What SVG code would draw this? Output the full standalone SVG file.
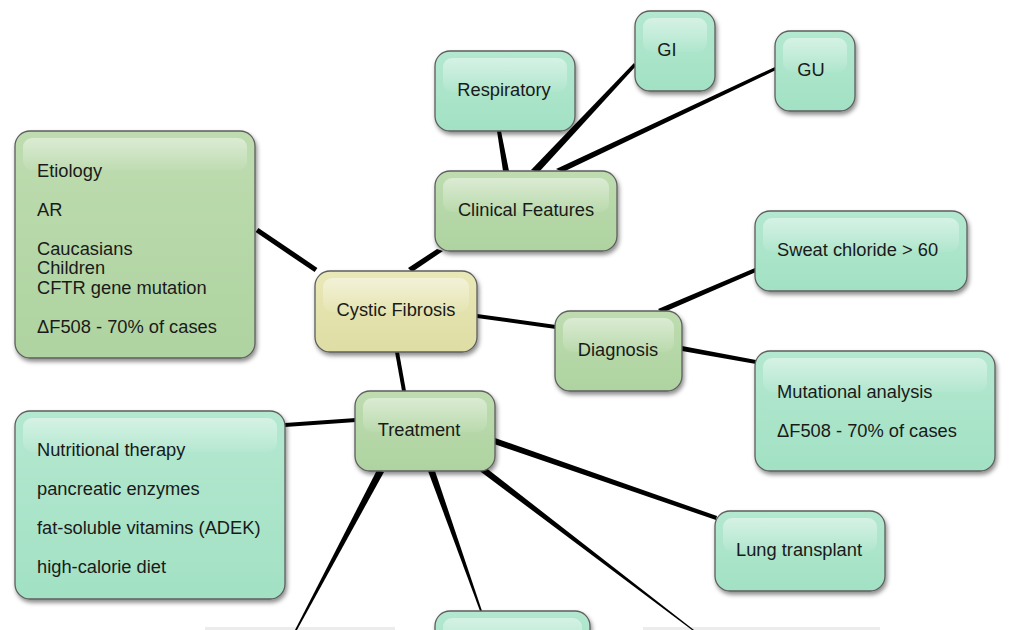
<svg xmlns="http://www.w3.org/2000/svg" width="1020" height="630" viewBox="0 0 1020 630">
<defs>
<filter id="sh" x="-10%" y="-10%" width="125%" height="130%">
<feDropShadow dx="1.5" dy="3" stdDeviation="2" flood-color="#000" flood-opacity="0.45"/>
</filter>
<linearGradient id="gT" x1="0" y1="0" x2="0" y2="1">
<stop offset="0" stop-color="#b4e8d0"/><stop offset="1" stop-color="#a2e1c4"/>
</linearGradient>
<linearGradient id="gG" x1="0" y1="0" x2="0" y2="1">
<stop offset="0" stop-color="#bedcb0"/><stop offset="1" stop-color="#aed3a0"/>
</linearGradient>
<linearGradient id="gY" x1="0" y1="0" x2="0" y2="1">
<stop offset="0" stop-color="#e9e8b8"/><stop offset="1" stop-color="#dedda4"/>
</linearGradient>
<linearGradient id="gl" x1="0" y1="0" x2="0" y2="1">
<stop offset="0" stop-color="#fff" stop-opacity="0.45"/><stop offset="1" stop-color="#fff" stop-opacity="0.06"/>
</linearGradient>
</defs>
<style>
.n{stroke:#5e5e5e;stroke-width:1.3;filter:url(#sh)}
.t{fill:url(#gT)}.g{fill:url(#gG)}.y{fill:url(#gY)}
.gl{fill:url(#gl)}
text{font-family:"Liberation Sans",Arial,sans-serif;font-size:18.3px;fill:#1a1a1a}
.c{text-anchor:middle}
.cn{fill:#000}
</style>
<rect width="1020" height="630" fill="#fff"/>
<rect x="205" y="627" width="190" height="3" fill="#ececec"/>
<rect x="643" y="627" width="237" height="3" fill="#ececec"/>
<g id="connectors">
<polygon class="cn" points="255.6,232.1 258.4,227.9 317.4,267.9 314.6,272.1"/>
<polygon class="cn" points="408,268 412,272 443,251 437,249"/>
<polygon class="cn" points="497,131 501,131 509,171 503,171"/>
<polygon class="cn" points="634,63 636,66 539,172 531,170"/>
<polygon class="cn" points="775,67 776,70 563,172 556,169"/>
<polygon class="cn" points="477,314 477,318 556,329 556,325"/>
<polygon class="cn" points="658,309 662,313 756,272 755,268"/>
<polygon class="cn" points="682,346 682,351 756,364 756,360"/>
<polygon class="cn" points="395,352 399,352 406,391 402,391"/>
<polygon class="cn" points="285,423 285,427 356,422 356,418"/>
<polygon class="cn" points="495,438 494,444 716,520 717,516"/>
<polygon class="cn" points="377,470 384,472 297,630 295,630"/>
<polygon class="cn" points="428,471 435,471 482,611 480,611"/>
<polygon class="cn" points="479,470.5 483,465.5 694,630 692,630"/>
</g>
<g id="etiology">
<rect class="n g" x="15" y="131" width="240" height="227" rx="15"/>
<rect class="gl" x="23" y="138" width="224" height="32" rx="9"/>
<text x="37" y="177">Etiology</text>
<text x="37" y="216">AR</text>
<text x="37" y="255">Caucasians</text>
<text x="37" y="274">Children</text>
<text x="37" y="294">CFTR gene mutation</text>
<text x="37" y="333">ΔF508 - 70% of cases</text>
</g>
<g id="cystic-fibrosis">
<rect class="n y" x="315" y="271" width="162" height="81" rx="15"/>
<rect class="gl" x="323" y="278" width="146" height="34" rx="9"/>
<text class="c" x="396" y="316">Cystic Fibrosis</text>
</g>
<g id="clinical-features">
<rect class="n g" x="435" y="171" width="182" height="80" rx="15"/>
<rect class="gl" x="443" y="178" width="166" height="34" rx="9"/>
<text class="c" x="526" y="216">Clinical Features</text>
</g>
<g id="respiratory">
<rect class="n t" x="435" y="51" width="140" height="80" rx="15"/>
<rect class="gl" x="443" y="58" width="124" height="34" rx="9"/>
<text class="c" x="504" y="96">Respiratory</text>
</g>
<g id="gi">
<rect class="n t" x="635" y="11" width="80" height="80" rx="15"/>
<rect class="gl" x="643" y="18" width="64" height="34" rx="9"/>
<text class="c" x="667" y="56">GI</text>
</g>
<g id="gu">
<rect class="n t" x="775" y="31" width="80" height="80" rx="15"/>
<rect class="gl" x="783" y="38" width="64" height="34" rx="9"/>
<text class="c" x="811" y="76">GU</text>
</g>
<g id="sweat-chloride">
<rect class="n t" x="755" y="211" width="212" height="80" rx="15"/>
<rect class="gl" x="763" y="218" width="196" height="34" rx="9"/>
<text x="777" y="256">Sweat chloride &gt; 60</text>
</g>
<g id="diagnosis">
<rect class="n g" x="555" y="311" width="127" height="80" rx="15"/>
<rect class="gl" x="563" y="318" width="111" height="34" rx="9"/>
<text class="c" x="618" y="356">Diagnosis</text>
</g>
<g id="mutational-analysis">
<rect class="n t" x="755" y="351" width="240" height="120" rx="15"/>
<rect class="gl" x="763" y="358" width="224" height="34" rx="9"/>
<text x="777" y="398">Mutational analysis</text>
<text x="777" y="437">ΔF508 - 70% of cases</text>
</g>
<g id="treatment">
<rect class="n g" x="355" y="391" width="140" height="80" rx="15"/>
<rect class="gl" x="363" y="398" width="124" height="34" rx="9"/>
<text class="c" x="419" y="436">Treatment</text>
</g>
<g id="nutritional-therapy">
<rect class="n t" x="15" y="411" width="270" height="188" rx="15"/>
<rect class="gl" x="23" y="418" width="254" height="34" rx="9"/>
<text x="37" y="456">Nutritional therapy</text>
<text x="37" y="495">pancreatic enzymes</text>
<text x="37" y="534">fat-soluble vitamins (ADEK)</text>
<text x="37" y="573">high-calorie diet</text>
</g>
<g id="lung-transplant">
<rect class="n t" x="715" y="511" width="170" height="80" rx="15"/>
<rect class="gl" x="723" y="518" width="154" height="34" rx="9"/>
<text class="c" x="799" y="556">Lung transplant</text>
</g>
<g id="bottom-node">
<rect class="n t" x="435" y="611" width="155" height="60" rx="15"/>
<rect class="gl" x="443" y="618" width="139" height="34" rx="9"/>
</g>
</svg>
